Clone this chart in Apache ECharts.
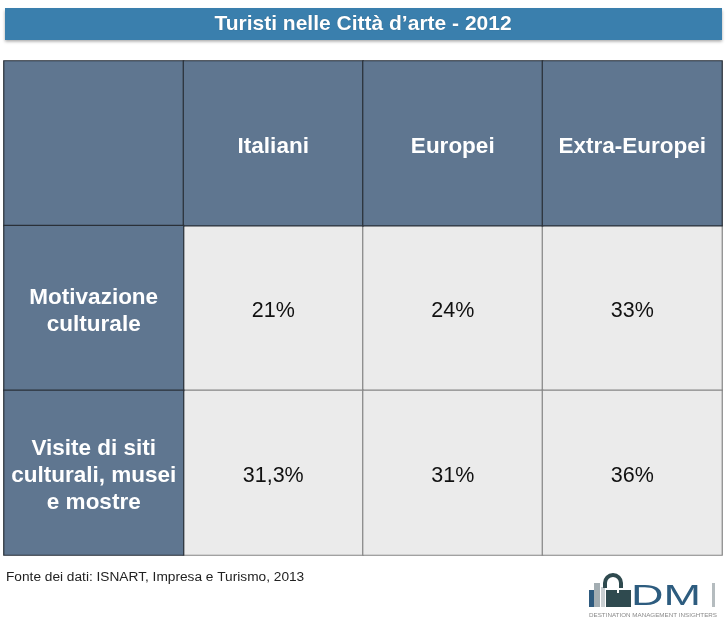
<!DOCTYPE html>
<html>
<head>
<meta charset="utf-8">
<script src="https://cdn.jsdelivr.net/npm/echarts@6/dist/echarts.min.js"></script>
<style>html,body{margin:0;padding:0;background:#fff}#c{width:728px;height:630px}</style>
</head>
<body>
<div id="c"></div>
<script>
var titleText = 'Turisti nelle Città d\u2019arte - 2012';
var columns = ['', 'Italiani', 'Europei', 'Extra-Europei'];
var rows = ['', 'Motivazione\nculturale', 'Visite di siti\nculturali, musei\ne mostre'];
var italiani = [21, 31.3];
var europei = [24, 31];
var extraEuropei = [33, 36];
var sourceText = 'Fonte dei dati: ISNART, Impresa e Turismo, 2013';

var seriesVals = [italiani, europei, extraEuropei];
var DARK = '#5f7690', LIGHT = '#ebebeb';
function fmt(v){ return String(v).replace('.', ',') + '%'; }

var lightCells = [], darkCells = [];
for (var r = 1; r < rows.length; r++) {
  for (var c = 1; c < columns.length; c++) {
    var v = seriesVals[c-1][r-1];
    lightCells.push({ value: [c, r, v], text: fmt(v),
      itemStyle: { color: LIGHT, borderColor: '#858585', borderWidth: 1.2 },
      label: { color: '#111', fontSize: 21.5, fontWeight: 'normal', offset: [0, 3] } });
  }
}
for (var c2 = 0; c2 < columns.length; c2++) {
  darkCells.push({ value: [c2, 0, 0], text: columns[c2],
    itemStyle: { color: DARK, borderColor: '#2a3038', borderWidth: 1.2 },
    label: { color: '#fff', fontSize: 22.5, fontWeight: 'bold', offset: [0, 3] } });
}
for (var r2 = 1; r2 < rows.length; r2++) {
  darkCells.push({ value: [0, r2, 0], text: rows[r2],
    itemStyle: { color: DARK, borderColor: '#2a3038', borderWidth: 1.2 },
    label: { color: '#fff', fontSize: 22.5, fontWeight: 'bold', lineHeight: 27, offset: [0, 3] } });
}

var chart = echarts.init(document.getElementById('c'), null, { renderer: 'canvas' });
chart.setOption({
  animation: false,
  textStyle: { fontFamily: 'Liberation Sans, Arial, sans-serif' },
  graphic: [
    { type: 'rect', shape: { x: 5, y: 8, width: 717, height: 32 },
      style: { fill: '#3a7fad', shadowBlur: 3, shadowColor: 'rgba(0,0,0,0.35)', shadowOffsetY: 1.5 } },
    { type: 'text', x: 363, y: 24, style: { text: titleText, fill: '#fff', font: 'bold 21px Liberation Sans, Arial, sans-serif',
      align: 'center', verticalAlign: 'middle', textShadowColor: 'rgba(0,0,0,0.3)', textShadowBlur: 1 } },
    { type: 'text', x: 6, y: 577, style: { text: sourceText, fill: '#222', font: '13.7px Liberation Sans, Arial, sans-serif', verticalAlign: 'middle' } },
    // logo
    { type: 'group', children: [
      { type: 'rect', shape: { x: 589, y: 590, width: 5, height: 17 }, style: { fill: '#2e5a7e' } },
      { type: 'rect', shape: { x: 594, y: 583, width: 6, height: 24 }, style: { fill: '#a3adb2' } },
      { type: 'rect', shape: { x: 601, y: 587, width: 4, height: 20 }, style: { fill: '#c9cfd2' } },
      { type: 'arc', shape: { cx: 613, cy: 583, r: 8, startAngle: Math.PI, endAngle: 0 }, style: { stroke: '#2f4a4f', lineWidth: 4, fill: null } },
      { type: 'rect', shape: { x: 603, y: 583, width: 4, height: 5 }, style: { fill: '#2f4a4f' } },
      { type: 'rect', shape: { x: 619, y: 583, width: 4, height: 5 }, style: { fill: '#2f4a4f' } },
      { type: 'rect', shape: { x: 606, y: 590, width: 25, height: 17 }, style: { fill: '#2f4a4f' } },
      { type: 'rect', shape: { x: 617, y: 588, width: 2, height: 5 }, style: { fill: '#ffffff' } },
      { type: 'text', x: 631, y: 597, scaleX: 1.5, style: { text: 'DM', fill: '#2d5c7f', font: '30px Liberation Sans, Arial, sans-serif', verticalAlign: 'middle' } },
      { type: 'rect', shape: { x: 712, y: 583, width: 3, height: 24 }, style: { fill: '#b5bcbf' } },
      { type: 'text', x: 653, y: 616, scaleX: 1.25, style: { text: 'DESTINATION MANAGEMENT INSIGHTERS', fill: '#8a8a8a', font: '5px Liberation Sans, Arial, sans-serif', align: 'center', verticalAlign: 'middle' } }
    ] }
  ],
  grid: { left: 4, top: 61, width: 718, height: 494, containLabel: false },
  xAxis: { type: 'category', data: columns, show: false },
  yAxis: { type: 'category', data: rows, inverse: true, show: false },
  series: [
    { type: 'heatmap', data: lightCells, label: { show: true, formatter: function(p){ return p.data.text; } }, emphasis: { disabled: true } },
    { type: 'heatmap', data: darkCells, label: { show: true, formatter: function(p){ return p.data.text; } }, emphasis: { disabled: true } }
  ]
});
</script>
</body>
</html>
